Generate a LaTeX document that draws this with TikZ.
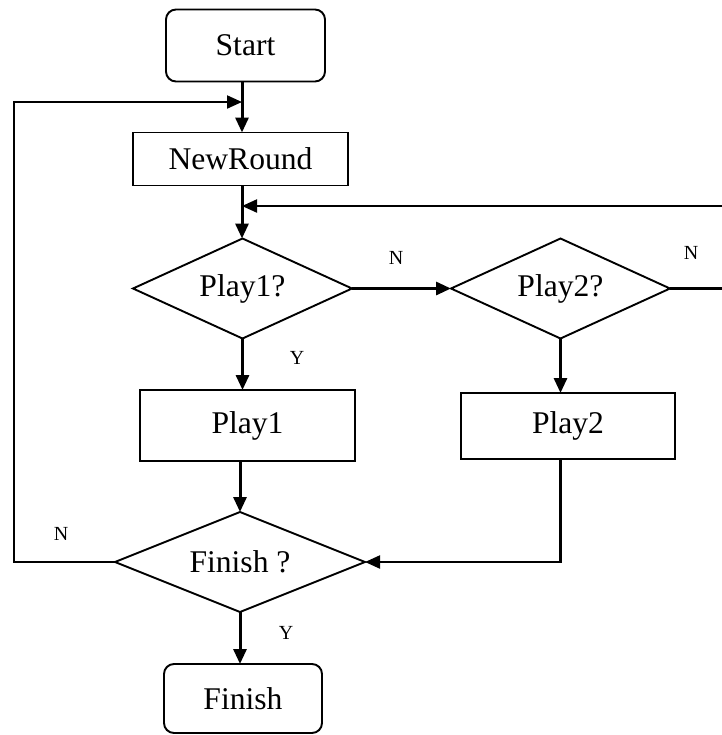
\documentclass[tikz,border=0pt]{standalone}
\usepackage{fontspec}
\setmainfont{Liberation Serif}
\usetikzlibrary{shapes.geometric,arrows.meta}

\begin{document}
\begin{tikzpicture}[x=0.5pt,y=-0.5pt,
    box/.style={draw,line width=0.95pt,inner sep=0pt,outer sep=0pt,font=\fontsize{15.8}{18}\selectfont},
    term/.style={box,rounded corners=5pt},
    test/.style={box,diamond,aspect=2.2},
    arrowed/.style={-{Triangle[length=7.5pt,width=6.5pt]}},
    flow/.style={line width=1.5pt,arrowed},
    thinflow/.style={line width=1.05pt,arrowed},
    tag/.style={font=\fontsize{10}{12}\selectfont,inner sep=0pt}]
            \useasboundingbox (0,0) rectangle (722,735);
            \node [term,minimum width=79.5pt,minimum height=36pt] (start) at (245.5,45.5) {Start};
            \node [box,minimum width=107.5pt,minimum height=26.5pt] (newround) at (240.5,159) {NewRound};
            \node [test,minimum width=109.5pt,minimum height=50pt] (play1q) at (242.5,288.5) {Play1?};
            \node [test,minimum width=109.5pt,minimum height=50pt] (play2q) at (560.5,288.5) {Play2?};
            \node [box,minimum width=107.5pt,minimum height=35.5pt] (play1) at (247.5,425.5) {Play1};
            \node [box,minimum width=107pt,minimum height=33pt] (play2) at (568,426) {Play2};
            \node [test,minimum width=125pt,minimum height=50pt] (finishq) at (240,562) {Finish ?};
            \node [term,minimum width=79pt,minimum height=34.5pt] (finish) at (243,698.5) {Finish};
            \coordinate (j1) at (242,102);
            \coordinate (j2) at (242,206);
            \coordinate (c1) at (14,102);
            \coordinate (c2) at (730,288.5);
            \coordinate (c3) at (730,206);
            \draw [flow] (start.south -| j1) -- (newround.north -| j1);
            \draw [flow] (newround.south -| j2) -- (play1q.north -| j2);
            \draw [flow] (play1q.east) -- (play2q.west);
            \draw [flow] (play1q.south) -- (play1q.south |- play1.north);
            \draw [flow] (play2q.south) -- (play2q.south |- play2.north);
            \draw [flow] (play1.south -| finishq.north) -- (finishq.north);
            \draw [flow] (finishq.south) -- (finishq.south |- finish.north);
            \draw [thinflow] (play2.south -| play2q.south) |- (finishq.east);
            \draw [thinflow] (finishq.west) -| (c1) -- (j1);
            \draw [thinflow] (play2q.east) -- (c2) -- (c3) -- (j2);
            \node [tag] (n1) at (396,258) {N};
            \node [tag] (n2) at (691,253) {N};
            \node [tag] (y1) at (297,358) {Y};
            \node [tag] (n3) at (61,534) {N};
            \node [tag] (y2) at (286,633) {Y};
        \end{tikzpicture}
\end{document}
